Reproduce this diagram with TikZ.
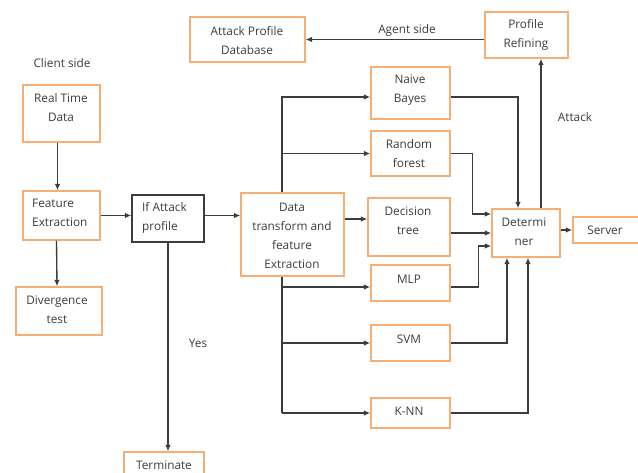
\documentclass[tikz,border=0pt]{standalone}
\usepackage{fontspec}
\setmainfont{Open Sans}
\usetikzlibrary{arrows.meta}
\definecolor{obox}{HTML}{F6AE74}
\definecolor{ink}{HTML}{3C3C3C}
\begin{document}
\begin{tikzpicture}[x=1pt,y=-1pt,
  box/.style={draw=obox,line width=1.3pt,inner sep=0pt,rectangle},
  dbox/.style={draw=ink,line width=1.3pt,inner sep=0pt,rectangle},
  txt/.style={font=\fontsize{11.8}{19}\selectfont,text=ink,align=center,inner sep=0pt},
  conn/.style={draw=ink,line width=1.35pt},
  arr/.style={conn,-{Latex[length=6.5pt,width=5.5pt]}}]
\useasboundingbox[fill=white] (0,0) rectangle (638,472);
% boxes
\node[box,minimum width=115pt,minimum height=45pt] (adb) at (247.5,39.5) {};
\node[box,minimum width=83pt,minimum height=46pt] (pr) at (526.5,35) {};
\node[box,minimum width=77pt,minimum height=57pt] (rtd) at (61.5,113.5) {};
\node[box,minimum width=77pt,minimum height=49pt] (fe) at (61.5,215.5) {};
\node[box,minimum width=86pt,minimum height=48pt] (dt) at (59,311) {};
\node[dbox,minimum width=72pt,minimum height=47pt] (ifa) at (168,218.5) {};
\node[box,minimum width=103pt,minimum height=83pt] (dtf) at (292.5,234.5) {};
\node[box,minimum width=80pt,minimum height=33pt] (term) at (164,468.5) {};
\node[box,minimum width=79pt,minimum height=52pt] (nb) at (410.5,93) {};
\node[box,minimum width=79pt,minimum height=45pt] (rf) at (410.5,153.5) {};
\node[box,minimum width=82pt,minimum height=58pt] (dtree) at (409,227) {};
\node[box,minimum width=79pt,minimum height=36pt] (mlp) at (410.5,283) {};
\node[box,minimum width=79pt,minimum height=36pt] (svm) at (410.5,343) {};
\node[box,minimum width=79pt,minimum height=30pt] (knn) at (410.5,413) {};
\node[box,minimum width=68pt,minimum height=48pt] (det) at (526,233) {};
\node[box,minimum width=72pt,minimum height=26pt] (srv) at (609,230) {};
% texts
\node[txt] (tadb) at (247,41) {Attack Profile\\Database};
\node[txt] (tagent) at (407,30) {Agent side};
\node[txt] (tpr) at (526,35) {Profile\\Refining};
\node[txt] (tclient) at (62,63) {Client side};
\node[txt] (trtd) at (61,107.5) {Real Time\\Data};
\node[txt,align=left,anchor=west] (tfe) at (32,213) {Feature\\Extraction};
\node[txt] (tdt) at (57,309.5) {Divergence\\test};
\node[txt,align=left,anchor=west] (tifa) at (142,218) {If Attack\\profile};
\node[txt] (tdtf) at (292,235.5) {Data\\transform and\\feature\\Extraction};
\node[txt] (tterm) at (164,465) {Terminate};
\node[txt] (tyes) at (198,343) {Yes};
\node[txt] (tnb) at (410,90) {Naive\\Bayes};
\node[txt] (trf) at (409,153.5) {Random\\forest};
\node[txt] (tdtree) at (408,220.5) {Decision\\tree};
\node[txt] (tmlp) at (409,279) {MLP};
\node[txt] (tsvm) at (409,339) {SVM};
\node[txt] (tknn) at (409,411) {K-NN};
\node[txt] (tdet) at (524,232) {Determi\\ner};
\node[txt] (tsrv) at (605,230) {Server};
\node[txt] (tattack) at (575,117) {Attack};
% helper coordinates
\coordinate (bt) at (282,97);
\coordinate (bb) at (282,413);
\path ([yshift=8pt]dtree.west) coordinate (dtin)
      ([yshift=-4pt]mlp.west) coordinate (mlpin)
      ([yshift=-4pt]mlp.east) coordinate (mlpout)
      ([yshift=19pt]det.west) coordinate (detw1)
      ([yshift=-13pt]det.west) coordinate (detw3)
      ([yshift=-4pt]nb.east) coordinate (nbout);
% connectors
\draw[arr] (pr.west |- adb.east) -- (adb.east);
\draw[arr] ([xshift=-4pt]rtd.south) -- ([xshift=-4pt]fe.north);
\draw[arr] ([xshift=-5pt]fe.south) -- ([xshift=-2pt]dt.north);
\draw[arr] (fe.east) -- (fe.east -| ifa.west);
\draw[arr] (ifa.east |- fe.east) -- (dtf.west |- fe.east);
\draw[arr] (ifa.south) -- (ifa.south |- term.north);
\draw[arr] (bt |- dtf.north) -- (bt) -- (bt -| nb.west);
\draw[arr] (bt |- rf.west) -- (rf.west);
\draw[arr] (dtf.east |- dtin) -- (dtin);
\draw[conn] (bb |- dtf.south) -- (bb);
\draw[arr] (bb) -- (knn.west);
\draw[arr] (bb |- mlpin) -- (mlpin);
\draw[arr] (bb |- svm.west) -- (svm.west);
\draw[arr] (nbout) -| ([xshift=-8pt]det.north);
\draw[arr] (rf.east) -- ++(22pt,0) |- (detw1);
\draw[arr] (dtree.east |- det.west) -- (det.west);
\draw[arr] (mlpout) -- ++(28pt,0) |- (detw3);
\draw[arr] (svm.east) -| ([xshift=-19pt]det.south);
\draw[arr] (knn.east) -| ([xshift=2pt]det.south);
\draw[arr] ([xshift=15pt]det.north) -- ([xshift=15pt]det.north |- pr.south);
\draw[arr] (det.east |- srv.west) -- (srv.west);
\end{tikzpicture}
\end{document}
